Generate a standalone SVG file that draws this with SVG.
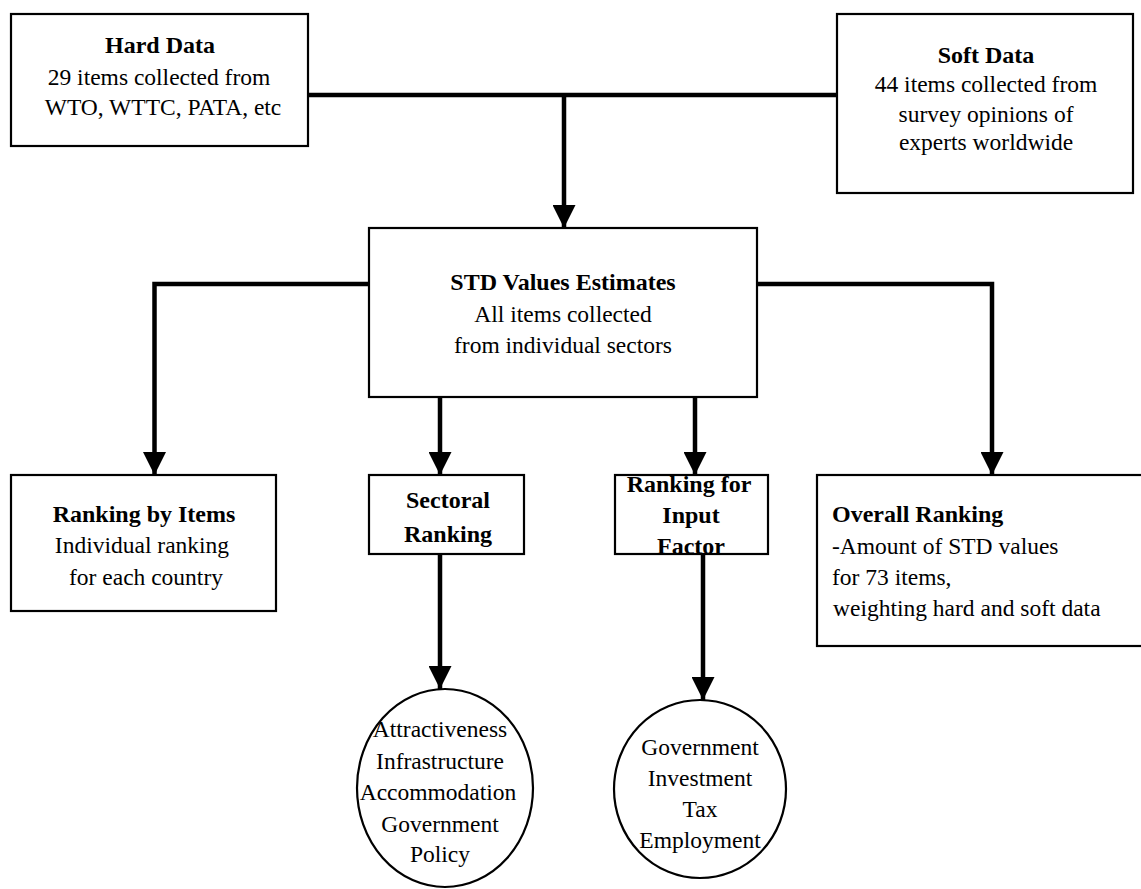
<svg xmlns="http://www.w3.org/2000/svg" width="1141" height="889" viewBox="0 0 1141 889">
<style>
.box{fill:#fff;stroke:#000;stroke-width:2.2}
.t{font-family:"Liberation Serif","Times New Roman",serif;font-size:23.5px;fill:#000}
.b{font-weight:bold;font-size:24px}
.c{text-anchor:middle}
.ln{fill:none;stroke:#000;stroke-width:4.5}
</style>
<defs>
<marker id="ah" viewBox="0 0 10 10" refX="10" refY="5" markerUnits="userSpaceOnUse" markerWidth="24" markerHeight="23" orient="auto">
<path d="M0,0 L10,5 L0,10 Z" fill="#000"/>
</marker>
</defs>
<rect width="1141" height="889" fill="#fff"/>
<g id="connectors">
<path class="ln" d="M308,95 H837" stroke-width="5.5"/>
<path class="ln" d="M564,95 V228" marker-end="url(#ah)"/>
<path class="ln" d="M369,284 H154.5 V475" marker-end="url(#ah)"/>
<path class="ln" d="M757,284 H992 V475" marker-end="url(#ah)"/>
<path class="ln" d="M440,397 V475" marker-end="url(#ah)"/>
<path class="ln" d="M695,397 V475" marker-end="url(#ah)"/>
<path class="ln" d="M440,554 V689" marker-end="url(#ah)"/>
<path class="ln" d="M703,554 V700" marker-end="url(#ah)"/>
</g>
<g id="hard-data">
<rect class="box" x="11" y="14" width="297" height="132"/>
<text class="t b c" x="160" y="53">Hard Data</text>
<text class="t c" x="159" y="85">29 items collected from</text>
<text class="t c" x="163" y="115">WTO, WTTC, PATA, etc</text>
</g>
<g id="soft-data">
<rect class="box" x="837" y="14" width="296" height="179"/>
<text class="t b c" x="986" y="63">Soft Data</text>
<text class="t c" x="986" y="92">44 items collected from</text>
<text class="t c" x="986" y="122">survey opinions of</text>
<text class="t c" x="986" y="150">experts worldwide</text>
</g>
<g id="std-values">
<rect class="box" x="369" y="228" width="388" height="169"/>
<text class="t b c" x="563" y="290">STD Values Estimates</text>
<text class="t c" x="563" y="322">All items collected</text>
<text class="t c" x="563" y="353">from individual sectors</text>
</g>
<g id="ranking-items">
<rect class="box" x="11" y="475" width="265" height="136"/>
<text class="t b c" x="144" y="522">Ranking by Items</text>
<text class="t c" x="142" y="553">Individual ranking</text>
<text class="t c" x="146" y="585">for each country</text>
</g>
<g id="sectoral">
<rect class="box" x="369" y="475" width="155" height="79"/>
<text class="t b c" x="448" y="508">Sectoral</text>
<text class="t b c" x="448" y="542">Ranking</text>
</g>
<g id="input-factor">
<rect class="box" x="615" y="475" width="153" height="79"/>
<text class="t b c" x="689" y="492">Ranking for</text>
<text class="t b c" x="691" y="523">Input</text>
<text class="t b c" x="691" y="554">Factor</text>
</g>
<g id="overall">
<rect class="box" x="817" y="475" width="340" height="171"/>
<text class="t b" x="832" y="522">Overall Ranking</text>
<text class="t" x="832" y="554">-Amount of STD values</text>
<text class="t" x="832" y="585">for 73 items,</text>
<text class="t" x="833" y="616">weighting hard and soft data</text>
</g>
<g id="sectors-circle">
<ellipse class="box" cx="445" cy="788" rx="88" ry="99"/>
<text class="t c" x="440" y="737">Attractiveness</text>
<text class="t c" x="440" y="769">Infrastructure</text>
<text class="t c" x="438" y="800">Accommodation</text>
<text class="t c" x="440" y="832">Government</text>
<text class="t c" x="440" y="862">Policy</text>
</g>
<g id="input-circle">
<ellipse class="box" cx="700" cy="789" rx="86" ry="89"/>
<text class="t c" x="700" y="755">Government</text>
<text class="t c" x="700" y="786">Investment</text>
<text class="t c" x="700" y="817">Tax</text>
<text class="t c" x="700" y="848">Employment</text>
</g>
</svg>
